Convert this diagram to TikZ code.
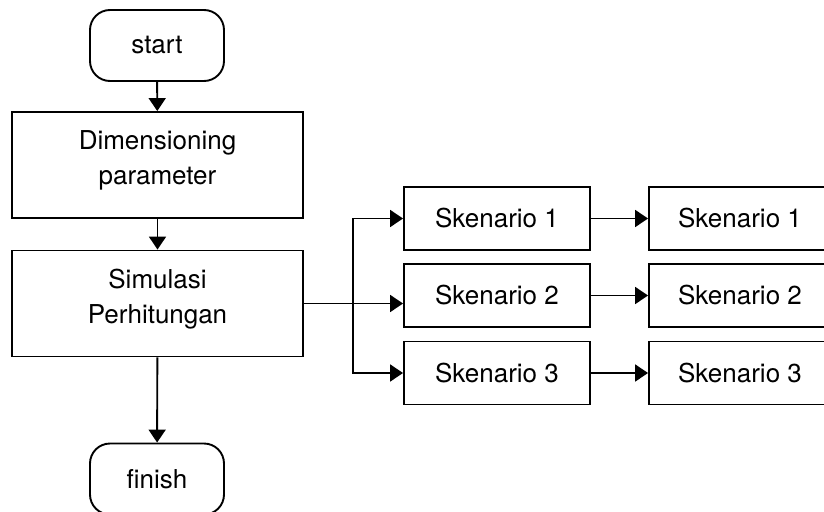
\documentclass[tikz,border=0pt]{standalone}
\usepackage{fontspec}
\setmainfont{TeX Gyre Heros}
\usetikzlibrary{arrows.meta}
\begin{document}
\begin{tikzpicture}[x=1pt,y=-1pt,
  every node/.style={font=\fontsize{26}{35}\selectfont, align=center, line width=1.9pt, draw, inner sep=0pt},
  term/.style={rounded corners=20pt, minimum width=134pt, minimum height=71pt},
  bigbox/.style={minimum width=291pt, minimum height=106pt, text depth=15pt},
  skbox/.style={minimum width=186pt, minimum height=63pt},
  arr/.style={line width=1.9pt, -{Triangle[length=13pt,width=17pt]}}]
  \useasboundingbox (0,0) rectangle (824,511);
  % main column
  \node[term]   (start)  at (157,45.5)  {start};
  \node[bigbox] (dim)    at (157.5,165) {Dimensioning\\parameter};
  \node[bigbox] (sim)    at (157.5,303.5) {Simulasi\\Perhitungan};
  \node[term]   (finish) at (157,479)   {finish};
  % scenario columns
  \node[skbox] (s1a) at (497,218.5) {Skenario 1};
  \node[skbox] (s2a) at (497,295.5) {Skenario 2};
  \node[skbox] (s3a) at (497,373)   {Skenario 3};
  \node[skbox, minimum width=182pt] (s1b) at (740,218.5) {Skenario 1};
  \node[skbox, minimum width=182pt] (s2b) at (740,295.5) {Skenario 2};
  \node[skbox, minimum width=182pt] (s3b) at (740,373)   {Skenario 3};
  % connectors
  \draw[arr] (start) -- (dim);
  \draw[arr] (dim) -- (sim);
  \draw[arr] (sim) -- (finish);
  \coordinate (br) at (353,303.5);
  \draw[arr] (sim.east) -- (s2a.west |- sim.east);
  \draw[arr] (br) |- (s1a.west);
  \draw[arr] (br) |- (s3a.west);
  \draw[arr] (s1a) -- (s1b);
  \draw[arr] (s2a) -- (s2b);
  \draw[arr] (s3a) -- (s3b);
\end{tikzpicture}
\end{document}
